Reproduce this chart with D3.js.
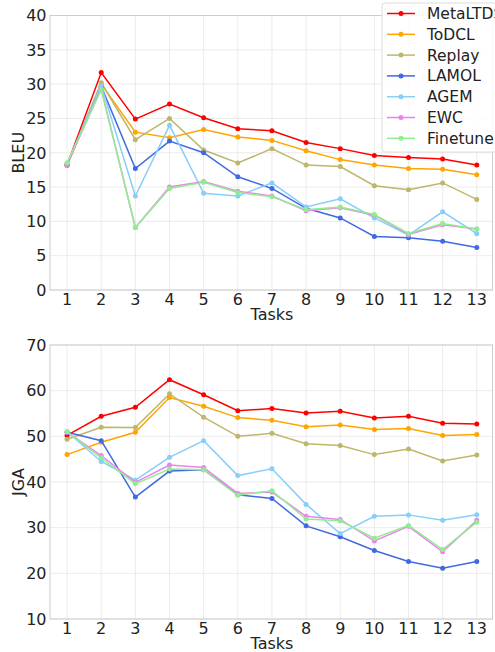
<!DOCTYPE html>
<html>
<head>
<meta charset="utf-8">
<script src="https://cdn.jsdelivr.net/npm/d3@7"></script>
<style>
  body { margin: 0; background: #fff; }
  svg { font-family: "DejaVu Sans", sans-serif; }
</style>
</head>
<body>
<svg width="495" height="652"></svg>
<script>
// tasks on the x axis
var tasks = [1, 2, 3, 4, 5, 6, 7, 8, 9, 10, 11, 12, 13];
var methods = ["MetaLTDS", "ToDCL", "Replay", "LAMOL", "AGEM", "EWC", "Finetune"];
var colors = ["#ff0000", "#ffa500", "#bdb76b", "#4169e1", "#87cefa", "#ee82ee", "#90ee90"];

// BLEU per method
var bleuMetaLTDS = [18.2, 31.7, 24.9, 27.1, 25.1, 23.5, 23.2, 21.5, 20.6, 19.6, 19.3, 19.1, 18.2];
var bleuToDCL    = [18.1, 30.0, 23.0, 22.2, 23.4, 22.3, 21.8, 20.3, 19.0, 18.2, 17.7, 17.6, 16.8];
var bleuReplay   = [18.3, 30.2, 21.9, 25.0, 20.4, 18.5, 20.6, 18.2, 18.0, 15.2, 14.6, 15.6, 13.2];
var bleuLAMOL    = [18.3, 29.7, 17.7, 21.7, 20.0, 16.5, 14.8, 11.9, 10.5, 7.8, 7.6, 7.1, 6.2];
var bleuAGEM     = [18.4, 29.8, 13.7, 24.0, 14.1, 13.7, 15.6, 12.1, 13.3, 10.5, 8.0, 11.4, 8.2];
var bleuEWC      = [18.3, 29.3, 9.1, 15.0, 15.8, 14.4, 13.7, 11.55, 12.0, 10.9, 8.1, 9.5, 8.9];
var bleuFinetune = [18.55, 29.2, 9.1, 14.8, 15.7, 14.2, 13.6, 11.7, 12.1, 11.0, 8.25, 9.7, 8.9];

// JGA per method
var jgaMetaLTDS = [50.2, 54.4, 56.35, 62.4, 59.1, 55.6, 56.1, 55.1, 55.5, 54.0, 54.4, 52.85, 52.7];
var jgaToDCL    = [46.0, 48.7, 50.9, 58.5, 56.6, 54.1, 53.5, 52.1, 52.5, 51.5, 51.7, 50.2, 50.4];
var jgaReplay   = [49.35, 52.0, 51.95, 59.3, 54.2, 50.0, 50.65, 48.4, 48.0, 46.0, 47.2, 44.6, 45.9];
var jgaLAMOL    = [50.9, 49.05, 36.7, 42.4, 42.7, 37.2, 36.4, 30.4, 28.0, 25.0, 22.6, 21.1, 22.6];
var jgaAGEM     = [51.0, 44.5, 40.4, 45.4, 49.05, 41.4, 42.9, 35.1, 28.7, 32.5, 32.8, 31.6, 32.85];
var jgaEWC      = [50.9, 45.8, 39.9, 43.7, 43.2, 37.5, 37.8, 32.5, 31.8, 27.1, 30.3, 24.7, 31.6];
var jgaFinetune = [51.0, 45.3, 39.6, 42.85, 42.7, 37.1, 38.1, 31.9, 31.5, 27.7, 30.5, 25.2, 31.2];

var bleuTicks = [0, 5, 10, 15, 20, 25, 30, 35, 40];
var jgaTicks = [10, 20, 30, 40, 50, 60, 70];

var bleuSeries = [bleuMetaLTDS, bleuToDCL, bleuReplay, bleuLAMOL, bleuAGEM, bleuEWC, bleuFinetune];
var jgaSeries = [jgaMetaLTDS, jgaToDCL, jgaReplay, jgaLAMOL, jgaAGEM, jgaEWC, jgaFinetune];

var svg = d3.select("svg");
var left = 50, right = 492.5;

var x = d3.scaleLinear().domain([0.5, 13.46]).range([left, right]);

function panel(top, bottom, yTicks, series, ylabel) {
  var y = d3.scaleLinear().domain([yTicks[0], yTicks[yTicks.length - 1]]).range([bottom, top]);
  var g = svg.append("g");

  // grid
  g.selectAll(".gx").data(tasks).enter().append("line")
    .attr("x1", function(d){ return x(d); }).attr("x2", function(d){ return x(d); })
    .attr("y1", top).attr("y2", bottom)
    .attr("stroke", "#e6e6e6").attr("stroke-width", 0.8);
  g.selectAll(".gy").data(yTicks).enter().append("line")
    .attr("x1", left).attr("x2", right)
    .attr("y1", function(d){ return y(d); }).attr("y2", function(d){ return y(d); })
    .attr("stroke", "#e6e6e6").attr("stroke-width", 0.8);

  // frame
  g.append("rect").attr("x", left).attr("y", top)
    .attr("width", right - left).attr("height", bottom - top)
    .attr("fill", "none").attr("stroke", "#cccccc").attr("stroke-width", 1);

  // tick labels
  g.selectAll(".tx").data(tasks).enter().append("text")
    .attr("x", function(d){ return x(d); }).attr("y", bottom + 14.5)
    .attr("text-anchor", "middle").attr("font-size", 16).attr("fill", "#222")
    .text(function(d){ return d; });
  g.selectAll(".ty").data(yTicks).enter().append("text")
    .attr("x", left - 3.5).attr("y", function(d){ return y(d) + 5.8; })
    .attr("text-anchor", "end").attr("font-size", 16).attr("fill", "#222")
    .text(function(d){ return d; });

  // axis labels
  g.append("text").attr("x", 272).attr("y", bottom + 30)
    .attr("text-anchor", "middle").attr("font-size", 16).attr("fill", "#222").text("Tasks");
  g.append("text").attr("transform", "translate(24," + ((top + bottom) / 2) + ") rotate(-90)")
    .attr("text-anchor", "middle").attr("font-size", 16).attr("fill", "#222").text(ylabel);

  var line = d3.line().x(function(d, i){ return x(tasks[i]); }).y(function(d){ return y(d); });

  series.forEach(function(vals, k) {
    g.append("path").datum(vals)
      .attr("d", line).attr("fill", "none")
      .attr("stroke", colors[k]).attr("stroke-width", 1.5);
    g.selectAll(".p" + k).data(vals).enter().append("circle")
      .attr("cx", function(d, i){ return x(tasks[i]); })
      .attr("cy", function(d){ return y(d); })
      .attr("r", 2.5).attr("fill", colors[k]);
  });
  return g;
}

panel(15.5, 290, bleuTicks, bleuSeries, "BLEU");
panel(345, 619, jgaTicks, jgaSeries, "JGA");

// legend (top panel)
var lg = svg.append("g");
lg.append("rect").attr("x", 382).attr("y", 3).attr("width", 120).attr("height", 149)
  .attr("rx", 3).attr("fill", "rgba(255,255,255,0.85)").attr("stroke", "#dddddd");
methods.forEach(function(m, k) {
  var yy = 13.5 + k * 20.8;
  lg.append("line").attr("x1", 387).attr("x2", 415).attr("y1", yy).attr("y2", yy)
    .attr("stroke", colors[k]).attr("stroke-width", 1.5);
  lg.append("circle").attr("cx", 401).attr("cy", yy).attr("r", 2.5).attr("fill", colors[k]);
  lg.append("text").attr("x", 427).attr("y", yy + 5.5).attr("font-size", 15.5)
    .attr("fill", "#222").text(m);
});
</script>
</body>
</html>
